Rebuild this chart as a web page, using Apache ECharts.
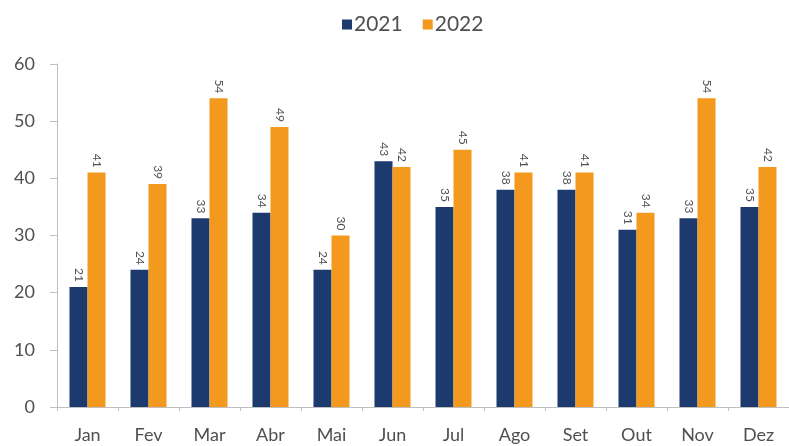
<!DOCTYPE html>
<html><head><meta charset="utf-8">
<script src="https://cdn.jsdelivr.net/npm/echarts@6/dist/echarts.min.js"></script>
<style>html,body{margin:0;padding:0;background:#fff}#c{width:789px;height:446px}</style>
</head><body><div id="c"></div>
<script>
const categories = ['Jan','Fev','Mar','Abr','Mai','Jun','Jul','Ago','Set','Out','Nov','Dez'];
const values2021 = [21,24,33,34,24,43,35,38,38,31,33,35];
const values2022 = [41,39,54,49,30,42,45,41,41,34,54,42];
const yTicks = [0,10,20,30,40,50,60];

const chart = echarts.init(document.getElementById('c'));
const lbl = {
  show: true, position: 'top', rotate: -90, align: 'right', verticalAlign: 'middle',
  distance: 5, fontFamily: 'Lato', fontSize: 12, color: '#505050'
};
chart.setOption({
  animation: false,
  textStyle: {fontFamily: 'Lato'},
  legend: {
    top: 9, left: 337, itemWidth: 10, itemHeight: 10, itemGap: 20,
    icon: 'rect',
    textStyle: {fontSize: 21, color: '#505050', padding: [0,0,0,-3]},
    data: ['2021','2022']
  },
  grid: {left: 57, right: -7, top: 64, bottom: 39, containLabel: false},
  xAxis: {
    type: 'category', data: categories,
    axisLine: {lineStyle: {color: '#bfbfbf'}},
    axisTick: {show: true, lineStyle: {color: '#bfbfbf'}, length: 4},
    axisLabel: {fontSize: 18, color: '#505050', margin: 19}
  },
  yAxis: {
    type: 'value', min: yTicks[0], max: yTicks[yTicks.length-1], interval: 10,
    splitLine: {show: false},
    axisLine: {show: true, lineStyle: {color: '#bfbfbf'}},
    axisTick: {show: true, lineStyle: {color: '#bfbfbf'}, length: 7},
    axisLabel: {fontSize: 18, color: '#505050', margin: 22}
  },
  series: [
    {name: '2021', type: 'bar', data: values2021, barWidth: 18, barGap: '0%',
     itemStyle: {color: '#1d3a6e'}, label: lbl},
    {name: '2022', type: 'bar', data: values2022, barWidth: 18, barGap: '0%',
     itemStyle: {color: '#f39a1e'}, label: lbl}
  ]
});
</script></body></html>
